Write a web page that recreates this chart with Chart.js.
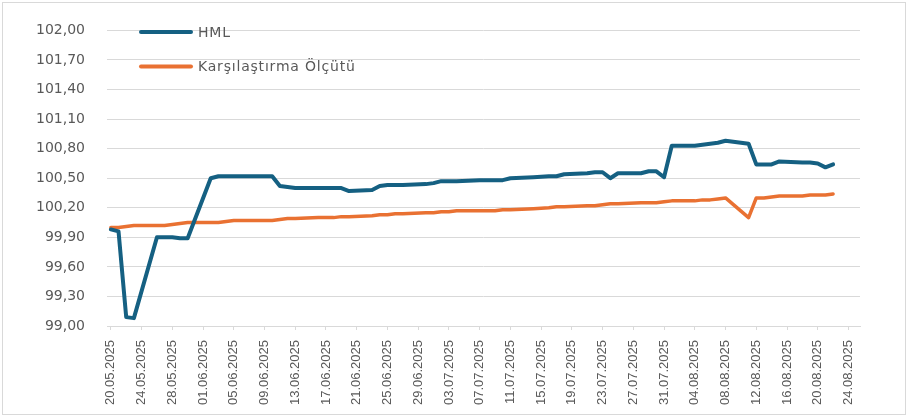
<!DOCTYPE html>
<html>
<head>
<meta charset="utf-8">
<script src="https://cdn.jsdelivr.net/npm/chart.js@4.4.1/dist/chart.umd.min.js"></script>
<style>
  body { margin: 0; background: #fff; }
  #wrap { position: relative; width: 910px; height: 419px; }
</style>
</head>
<body>
<div id="wrap"><canvas id="chart1" width="910" height="419"></canvas></div>
<script>
// fon fiyatı ve karşılaştırma ölçütü (iş günleri)
const dates = [
  '20.05.2025', '21.05.2025', '22.05.2025', '23.05.2025',
  '26.05.2025', '27.05.2025', '28.05.2025', '29.05.2025', '30.05.2025',
  '02.06.2025', '03.06.2025', '04.06.2025', '05.06.2025',
  '10.06.2025', '11.06.2025', '12.06.2025', '13.06.2025',
  '16.06.2025', '17.06.2025', '18.06.2025', '19.06.2025', '20.06.2025',
  '23.06.2025', '24.06.2025', '25.06.2025', '26.06.2025', '27.06.2025',
  '30.06.2025', '01.07.2025', '02.07.2025', '03.07.2025', '04.07.2025',
  '07.07.2025', '08.07.2025', '09.07.2025', '10.07.2025', '11.07.2025',
  '14.07.2025', '16.07.2025', '17.07.2025', '18.07.2025',
  '21.07.2025', '22.07.2025', '23.07.2025', '24.07.2025', '25.07.2025',
  '28.07.2025', '29.07.2025', '30.07.2025', '31.07.2025', '01.08.2025',
  '04.08.2025', '05.08.2025', '06.08.2025', '07.08.2025', '08.08.2025',
  '11.08.2025', '12.08.2025', '13.08.2025', '14.08.2025', '15.08.2025',
  '18.08.2025', '19.08.2025', '20.08.2025', '21.08.2025', '22.08.2025'
];

const hml = [
  99.98, 99.96, 99.09, 99.08,
  99.90, 99.90, 99.90, 99.89, 99.89,
  100.50, 100.52, 100.52, 100.52,
  100.52, 100.42, 100.41, 100.40,
  100.40, 100.40, 100.40, 100.40, 100.37,
  100.38, 100.42, 100.43, 100.43, 100.43,
  100.44, 100.45, 100.47, 100.47, 100.47,
  100.48, 100.48, 100.48, 100.48, 100.50,
  100.51, 100.52, 100.52, 100.54,
  100.55, 100.56, 100.56, 100.50, 100.55,
  100.55, 100.57, 100.57, 100.51, 100.83,
  100.83, 100.84, 100.85, 100.86, 100.88,
  100.85, 100.64, 100.64, 100.64, 100.67,
  100.66, 100.66, 100.65, 100.61, 100.64
];

const benchmark = [
  100.00, 100.00, 100.01, 100.02,
  100.02, 100.02, 100.03, 100.04, 100.05,
  100.05, 100.05, 100.06, 100.07,
  100.07, 100.08, 100.09, 100.09,
  100.10, 100.10, 100.10, 100.11, 100.11,
  100.12, 100.13, 100.13, 100.14, 100.14,
  100.15, 100.15, 100.16, 100.16, 100.17,
  100.17, 100.17, 100.17, 100.18, 100.18,
  100.19, 100.20, 100.21, 100.21,
  100.22, 100.22, 100.23, 100.24, 100.24,
  100.25, 100.25, 100.25, 100.26, 100.27,
  100.27, 100.28, 100.28, 100.29, 100.30,
  100.10, 100.30, 100.30, 100.31, 100.32,
  100.32, 100.33, 100.33, 100.33, 100.34
];

const tickDates = [
  '20.05.2025', '24.05.2025', '28.05.2025', '01.06.2025', '05.06.2025',
  '09.06.2025', '13.06.2025', '17.06.2025', '21.06.2025', '25.06.2025',
  '29.06.2025', '03.07.2025', '07.07.2025', '11.07.2025', '15.07.2025',
  '19.07.2025', '23.07.2025', '27.07.2025', '31.07.2025', '04.08.2025',
  '08.08.2025', '12.08.2025', '16.08.2025', '20.08.2025', '24.08.2025'
];

const seriesNames = ['HML', 'Karşılaştırma Ölçütü'];
const seriesColors = ['#156082', '#E97132'];

// gün sayısı (20.05.2025 = 0)
function dayIndex(s) {
  let p = s.split('.');
  let t = Date.UTC(+p[2], +p[1] - 1, +p[0]);
  return Math.round((t - Date.UTC(2025, 4, 20)) / 86400000);
}

const tickDays = tickDates.map(dayIndex);
const labelByDay = {};
tickDates.forEach((d, i) => { labelByDay[tickDays[i]] = d; });

function toPoints(values) {
  return values.map((v, i) => ({ x: dayIndex(dates[i]), y: v }));
}

let framePlugin = {
  id: 'frame',
  afterDraw(chart) {
    let c = chart.ctx;
    c.save();
    c.strokeStyle = '#d9d9d9';
    c.lineWidth = 1;
    c.strokeRect(2.5, 2.5, 903, 412);
    c.restore();
  }
};

let legendPlugin = {
  id: 'insideLegend',
  afterDraw(chart) {
    let c = chart.ctx;
    c.save();
    chart.data.datasets.forEach((ds, i) => {
      let y = 32 + i * 34.5;
      c.strokeStyle = ds.borderColor;
      c.lineWidth = 4;
      c.lineCap = 'round';
      c.beginPath();
      c.moveTo(141, y);
      c.lineTo(191, y);
      c.stroke();
      c.fillStyle = '#595959';
      c.font = '14px "DejaVu Sans"';
      c.letterSpacing = '0.8px';
      c.textBaseline = 'middle';
      c.fillText(ds.label, 198, y + 1);
    });
    c.restore();
  }
};

let ctx = document.getElementById('chart1').getContext('2d');

let myChart = new Chart(ctx, {
  type: 'line',
  data: {
    datasets: [{
      label: seriesNames[0],
      data: toPoints(hml),
      borderColor: seriesColors[0],
      borderWidth: 4,
      borderJoinStyle: 'round',
      borderCapStyle: 'round',
      pointRadius: 0,
      tension: 0
    }, {
      label: seriesNames[1],
      data: toPoints(benchmark),
      borderColor: seriesColors[1],
      borderWidth: 3.5,
      borderJoinStyle: 'round',
      borderCapStyle: 'round',
      pointRadius: 0,
      tension: 0
    }]
  },
  options: {
    responsive: false,
    animation: false,
    layout: { padding: { top: 23, right: 50, left: 0, bottom: 0 } },
    plugins: {
      legend: { display: false },
      tooltip: { enabled: false }
    },
    scales: {
      x: {
        type: 'linear',
        min: -0.5,
        max: 97.5,
        afterBuildTicks: function(scale) {
          scale.ticks = tickDays.map(v => ({ value: v }));
        },
        afterFit: function(scale) { scale.height = 93; },
        grid: {
          drawOnChartArea: false,
          drawTicks: true,
          tickLength: 4,
          color: '#d9d9d9'
        },
        border: { display: true, color: '#d9d9d9' },
        ticks: {
          autoSkip: false,
          minRotation: 90,
          maxRotation: 90,
          padding: 10,
          color: '#595959',
          font: { family: '"Liberation Sans"', size: 13 },
          callback: function(v) { return labelByDay[v] || ''; }
        }
      },
      y: {
        min: 99,
        max: 102,
        afterBuildTicks: function(scale) {
          let t = [];
          for (let i = 0; i <= 10; i++) t.push({ value: 99 + i * 0.3 });
          scale.ticks = t;
        },
        afterFit: function(scale) { scale.width = 107; },
        grid: {
          color: '#d9d9d9',
          lineWidth: 1,
          drawTicks: false
        },
        border: { display: false },
        ticks: {
          padding: 22,
          color: '#595959',
          font: { family: '"DejaVu Sans"', size: 14 },
          callback: function(v) { return v.toFixed(2).replace('.', ','); }
        }
      }
    }
  },
  plugins: [framePlugin, legendPlugin]
});
</script>
</body>
</html>
